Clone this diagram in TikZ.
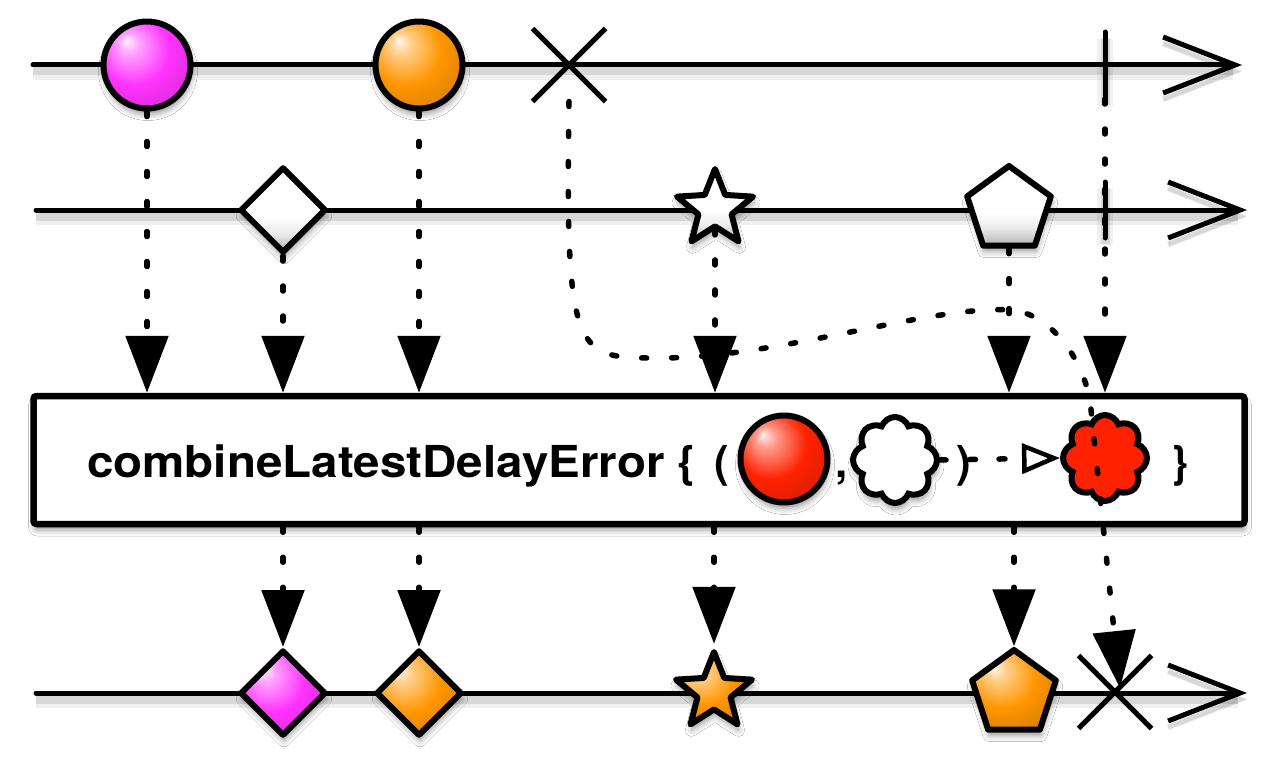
\documentclass[tikz,border=0pt]{standalone}
\usepackage{graphicx}
\usepackage{fontspec}
\newfontfamily\hv{TeX Gyre Heros}
\usetikzlibrary{arrows.meta,shapes.geometric,shapes.symbols,shapes.misc,shadows.blur}
\definecolor{mmag}{HTML}{FF33FF}
\definecolor{mora}{HTML}{FF9600}
\definecolor{mred}{HTML}{FF2200}
\pgfdeclareradialshading{shmag}{\pgfpoint{-12bp}{14bp}}{color(0bp)=(mmag!8!white); color(6bp)=(mmag!45!white); color(20bp)=(mmag); color(34bp)=(mmag!85!black); color(50bp)=(mmag!50!black)}
\pgfdeclareradialshading{shora}{\pgfpoint{-12bp}{14bp}}{color(0bp)=(mora!8!white); color(6bp)=(mora!45!white); color(20bp)=(mora); color(34bp)=(mora!85!black); color(50bp)=(mora!50!black)}
\pgfdeclareradialshading{shred}{\pgfpoint{-12bp}{14bp}}{color(0bp)=(mred!8!white); color(6bp)=(mred!45!white); color(20bp)=(mred); color(34bp)=(mred!85!black); color(50bp)=(mred!50!black)}
\pgfdeclareverticalshading{shwhite}{100bp}{color(0bp)=(black!32); color(25bp)=(black!30); color(36bp)=(black!8); color(46bp)=(white); color(100bp)=(white)}
\tikzset{
  lsh/.style={preaction={draw=black, opacity=0.06, line width=16pt, transform canvas={yshift=-7pt}},
              preaction={draw=black, opacity=0.10, line width=9pt, transform canvas={yshift=-6pt}}},
  lane/.style={line width=5pt, line cap=round, lsh, -{Straight Barb[length=72pt,width=56pt,line width=5pt]}},
  tickline/.style={line width=5pt, line cap=round, lsh},
  flow/.style={line width=5.5pt, line cap=round, dash pattern=on 5pt off 25pt, -{Triangle[length=57pt,width=42pt]}},
  sh/.style={blur shadow={shadow xshift=1pt, shadow yshift=-6pt, shadow blur radius=6pt, shadow opacity=40}},
  base/.style={draw, line width=6pt, line join=round, inner sep=0pt, sh},
  circ/.style={base, circle, minimum size=87pt, shading=#1},
  dia/.style={base, diamond, aspect=1, minimum width=86pt, minimum height=86pt},
  starn/.style={base, star, star points=5, star point ratio=2.3, minimum size=80pt},
  pent/.style={base, regular polygon, regular polygon sides=5, minimum size=88pt},
  whiteshade/.style={shading=shwhite},
  xmark/.style={cross out, draw, line width=5pt, minimum size=68pt, inner sep=0pt},
  cld/.style={cloud, cloud puffs=8, cloud puff arc=140, aspect=1, draw, line width=6pt, inner sep=0pt, minimum width=84pt, minimum height=86pt},
  lbl/.style={inner sep=0pt, anchor=base, font=\hv\bfseries\fontsize{44}{44}\selectfont},
  fdash/.style={line width=5.5pt, line cap=round, dash pattern=on 6pt off 23.5pt, -{Triangle[length=38pt,width=30pt,fill=white,line width=4.5pt]}}
}
\begin{document}
\begin{tikzpicture}[x=1pt,y=-1pt]
\useasboundingbox (0,0) rectangle (1280,760);
\fill[white] (0,0) rectangle (1280,760);
% lane endpoints
\coordinate (r1s) at (33,65);   \coordinate (r1e) at (1242,65);
\coordinate (r2s) at (36,210);  \coordinate (r2e) at (1247,210);
\coordinate (r3s) at (36,693);  \coordinate (r3e) at (1247,693);
\draw[lane] (r1s) -- (r1e);
\draw[lane] (r2s) -- (r2e);
\draw[lane] (r3s) -- (r3e);
% ticks
\coordinate (t1a) at (1105,32);  \coordinate (t1b) at (1105,99);
\coordinate (t2a) at (1105,182); \coordinate (t2b) at (1105,238);
\draw[tickline] (t1a) -- (t1b);
\draw[tickline] (t2a) -- (t2b);
% box
\node[draw, line width=6.5pt, rounded corners=3pt, fill=white, minimum width=1211pt, minimum height=128pt, inner sep=0pt, sh] (box) at (639,460) {};
% top shapes
\node[circ=shmag] (m1) at (147,65) {};
\node[circ=shora] (o1) at (419,65) {};
\node[xmark] (xerr) at (569,65) {};
\node[dia, whiteshade] (d2) at (283,210) {};
\node[starn, whiteshade] (s2) at (715,209) {};
\node[pent, whiteshade] (p2) at (1009,210) {};
% top connectors
\draw[flow] (m1.south) -- (m1 |- box.north);
\draw[flow] (o1.south) -- (o1 |- box.north);
\draw[flow] (d2.south) -- (d2 |- box.north);
\draw[flow] (s2.south) -- (s2 |- box.north);
\draw[flow] (p2.south) -- (p2 |- box.north);
\draw[flow] (t1b) -- (t1b |- box.north);
% bottom shapes
\node[dia, shading=shmag] (m3) at (283,693) {};
\node[dia, shading=shora] (o3) at (419,693) {};
\node[starn, shading=shora] (s3) at (714,692) {};
\node[pent, shading=shora] (p3) at (1014,694) {};
\node[xmark] (xbot) at (1115,692) {};
\coordinate (etip) at (1120,688);
% bottom connectors
\draw[flow] (m3 |- box.south) -- (m3.north);
\draw[flow] (o3 |- box.south) -- (o3.north);
\draw[flow] (s3 |- box.south) -- (s3.north);
\draw[flow] (p3 |- box.south) -- (p3.north);
% formula
\node[lbl, anchor=base west] (fn) at (87,477) {\scalebox{1.08}[1]{combineLatestDelayError \{}};
\node[lbl] (lp) at (722,477) {(};
\node[circ=shred] (rb) at (784,459) {};
\node[lbl] (cm) at (842,477) {,};
\node[cld, fill=white, sh] (wc) at (895,460) {};
\node[lbl] (rp) at (964,477) {)};
\node[cld, fill=mred] (rc) at (1105,458) {};
\node[lbl] (rbr) at (1180,477) {\}};
\draw[fdash] (wc.east) -- (rc.west);
% error path
\draw[flow] (xerr.south) .. controls (565,360) and (575,358) .. (660,358)
  .. controls (780,358) and (930,305) .. (1010,310)
  .. controls (1045,312) and (1080,350) .. (1090,400) -- (etip);
\end{tikzpicture}
\end{document}
